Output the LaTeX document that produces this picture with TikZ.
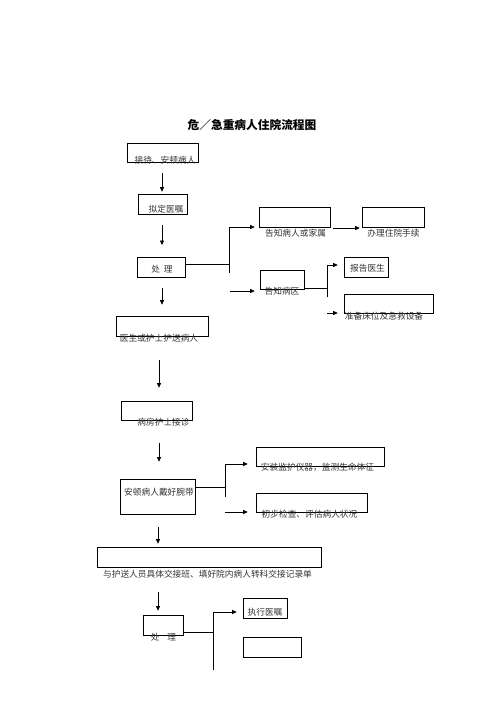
\documentclass[tikz,border=0pt]{standalone}
\usepackage{fontspec}
\newfontfamily\cjk{Noto Sans CJK SC}
\usetikzlibrary{arrows.meta}

\begin{document}
\begin{tikzpicture}[x=1pt,y=-1pt,>={Triangle[length=4.5pt,width=4pt]},
            line width=0.6pt,
            box/.style={draw,inner sep=0pt,minimum width=#1},
            box/.default=50pt,
            txt/.style={inner sep=0pt,text=black!80,font=\cjk\fontsize{8.7}{10}\selectfont},
            arr/.style={->}]
          \useasboundingbox (0,0) rectangle (500,707);

          \node[inner sep=0pt,font=\cjk\bfseries\fontsize{11.7}{13}\selectfont] (title) at (252,125) {危／急重病人住院流程图};

          % boxes
          \node[box=71pt,minimum height=19pt]  (b1) at (162.5,152.5) {};
          \node[box=49pt,minimum height=20pt]  (b2) at (162.5,204)   {};
          \node[box=48pt,minimum height=20pt]  (b3) at (161,267)     {};
          \node[box=71pt,minimum height=20pt]  (n1) at (294.5,217)   {};
          \node[box=62pt,minimum height=20pt]  (n2) at (393,217)     {};
          \node[box=44pt,minimum height=19pt]  (w1) at (282,279.5)   {};
          \node[box=44pt,minimum height=20pt]  (n3) at (366,267)     {};
          \node[box=89pt,minimum height=19pt]  (n4) at (388.5,303.5) {};
          \node[box=92pt,minimum height=20pt]  (b4) at (162,326)     {};
          \node[box=71pt,minimum height=19pt]  (b5) at (156.5,410.5) {};
          \node[box=128pt,minimum height=19pt] (m1) at (320,456.5)   {};
          \node[box=75pt,minimum height=35pt]  (b6) at (157.5,496.5) {};
          \node[box=111pt,minimum height=19pt] (m2) at (311.5,502.5) {};
          \node[box=224pt,minimum height=20pt] (b7) at (209,557)     {};
          \node[box=40pt,minimum height=20pt]  (b8) at (163,625)     {};
          \node[box=44pt,minimum height=20pt]  (e1) at (265,608)     {};
          \node[box=58pt,minimum height=20pt]  (e2) at (272,647)     {};

          % texts
          \node[txt] (t1)  at (165,160)   {接待、安顿病人};
          \node[txt] (t2)  at (166,209)   {拟定医嘱};
          \node[txt] (t3)  at (162,269)   {处\hspace{4pt}理};
          \node[txt] (t4)  at (295.5,233) {告知病人或家属};
          \node[txt] (t5)  at (393.5,233) {办理住院手续};
          \node[txt] (t6)  at (282,291)   {告知病区};
          \node[txt] (t7)  at (367.5,268) {报告医生};
          \node[txt] (t8)  at (384,316)   {准备床位及急救设备};
          \node[txt] (t9)  at (159,338)   {医生或护士护送病人};
          \node[txt] (t10) at (163.5,422) {病房护士接诊};
          \node[txt] (t11) at (317.5,467) {安装监护仪器，监测生命体征};
          \node[txt] (t12) at (159,492)   {安顿病人戴好腕带};
          \node[txt] (t13) at (309.5,514) {初步检查、评估病人状况};
          \node[txt] (t14) at (207.5,574) {与护送人员具体交接班、填好院内病人转科交接记录单};
          \node[txt] (t15) at (163.5,637) {处\hspace{8pt}理};
          \node[txt] (t16) at (265,612)   {执行医嘱};

          % main column
          \coordinate (a1) at (162,173);
          \coordinate (a2) at (162,225);
          \coordinate (a3) at (162,288);
          \coordinate (a4) at (159,360);
          \coordinate (a5) at (159,443);
          \coordinate (a6) at (158,527);
          \coordinate (a7) at (158,592);
          \draw[arr,shorten >=2pt] (a1) -- (a1 |- b2.north);
          \draw[arr] (a2) -- (162,245);
          \draw[arr,shorten >=11pt] (a3) -- (a3 |- b4.north);
          \draw[arr,shorten >=13pt] (a4) -- (a4 |- b5.north);
          \draw[arr,shorten >=17pt] (a5) -- (a5 |- b6.north);
          \draw[arr,shorten >=3pt] (a6) -- (a6 |- b7.north);
          \draw[arr,shorten >=4pt] (a7) -- (a7 |- b8.north);

          % branch after first 处理
          \coordinate (j1) at (229,227);
          \coordinate (j1e) at (229,273);
          \draw (b3.east |- 0,264) -- (j1 |- 0,264);
          \draw[arr,shorten >=4pt] (j1e) -- (j1) -- (j1 -| n1.west);
          \draw[arr,shorten <=3pt,shorten >=2pt] (n1.east |- 0,228) -- (n2.west |- 0,228);
          \coordinate (k1) at (230,291);
          \draw[arr,shorten >=5pt] (k1) -- (k1 -| w1.west);

          \coordinate (j2) at (327,265);
          \coordinate (j2e) at (327,297);
          \draw (w1.east |- 0,288) -- (j2 |- 0,288);
          \draw[arr,shorten >=6pt] (j2e) -- (j2) -- (j2 -| n3.west);
          \coordinate (k2) at (327,313);
          \draw[arr,shorten >=6pt] (k2) -- (k2 -| n4.west);

          % branch after 安顿病人
          \coordinate (j3) at (225,464);
          \coordinate (j3e) at (225,497);
          \draw (b6.east |- 0,487) -- (j3 |- 0,487);
          \draw[arr,shorten >=8pt] (j3e) -- (j3) -- (j3 -| m1.west);
          \coordinate (k3) at (225,512);
          \draw[arr,shorten >=8pt] (k3) -- (k3 -| m2.west);

          % branch after second 处理
          \coordinate (j4) at (213,612);
          \coordinate (j4e) at (213,670);
          \draw (b8.east |- 0,632) -- (j4 |- 0,632);
          \draw[arr,shorten >=6pt] (j4e) -- (j4) -- (j4 -| e1.west);
\end{tikzpicture}
\end{document}
